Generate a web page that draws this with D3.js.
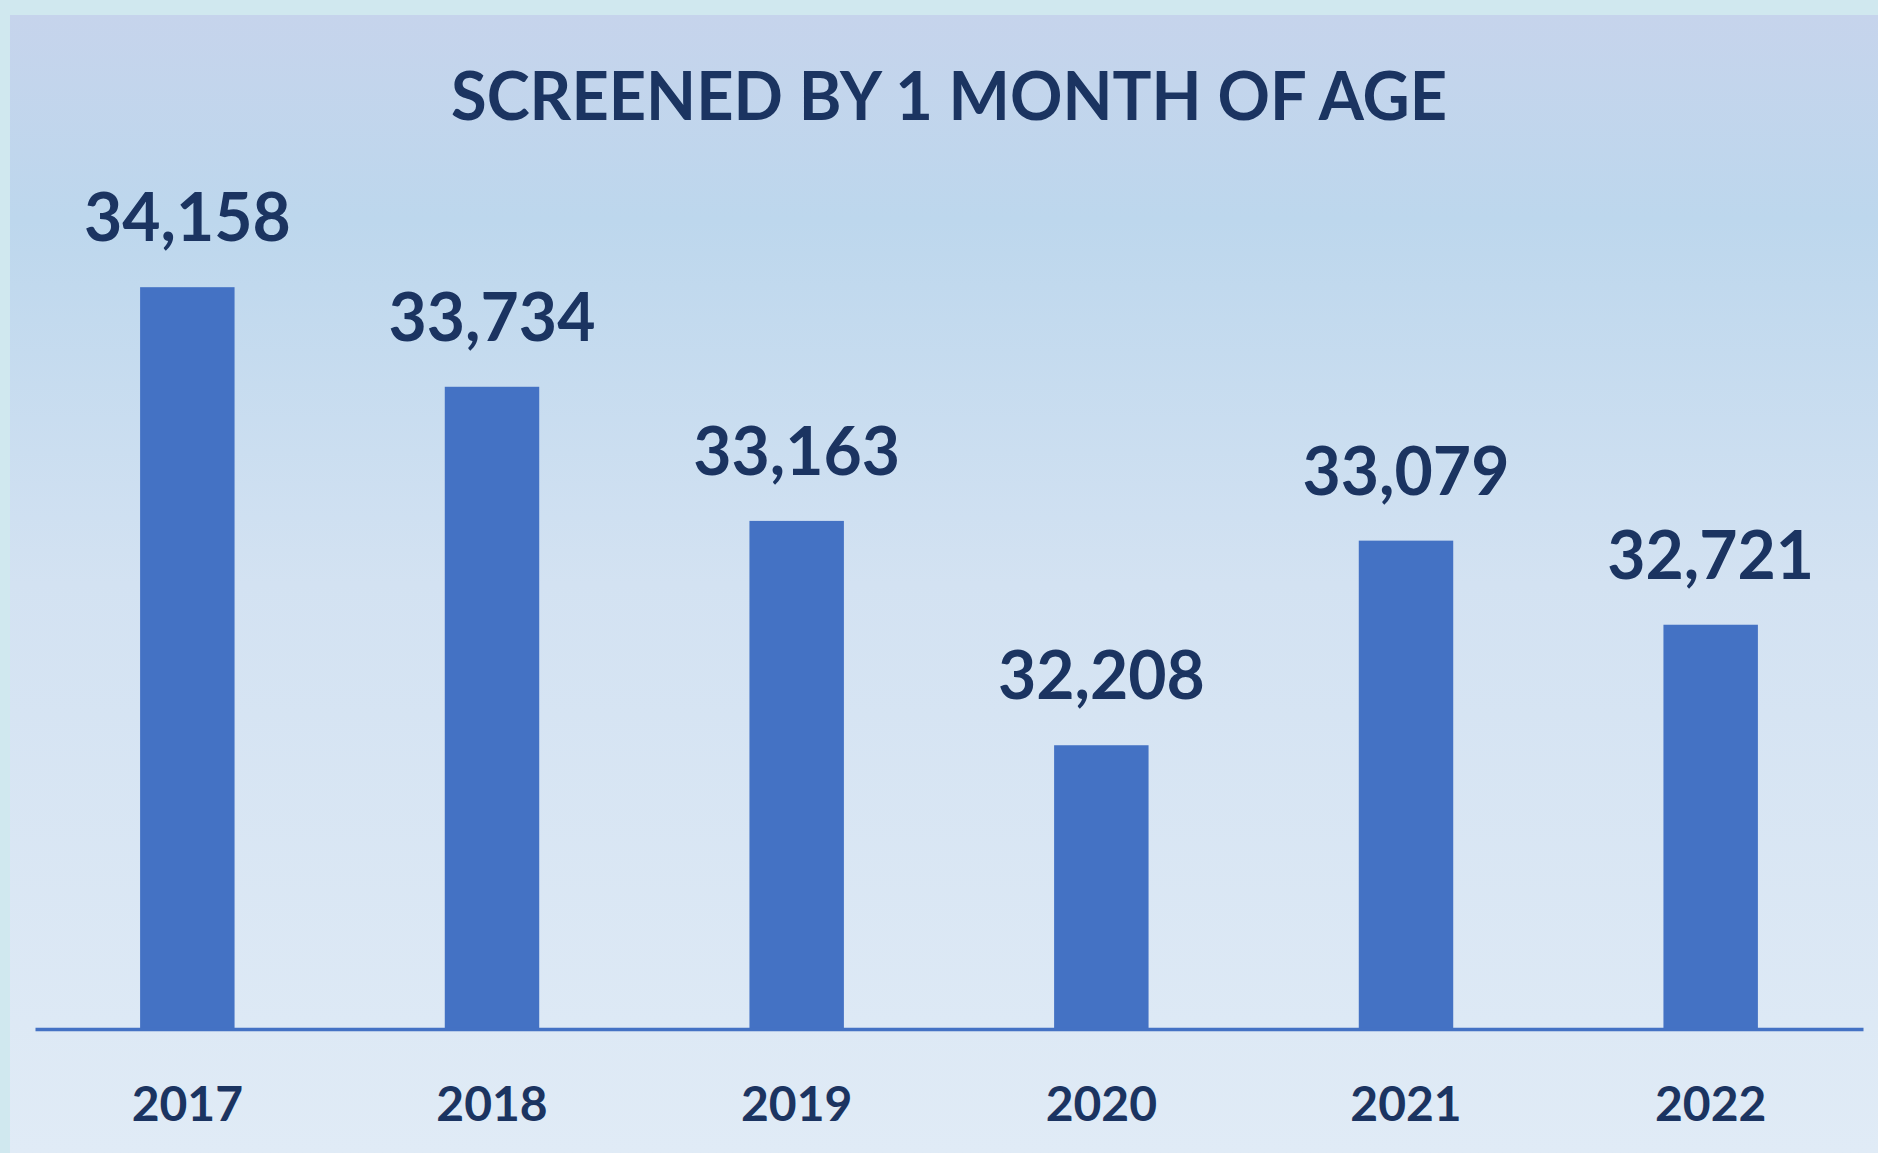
<!DOCTYPE html>
<html>
<head>
<meta charset="utf-8">
<script src="https://cdn.jsdelivr.net/npm/d3@7"></script>
<style>
  html, body { margin: 0; padding: 0; background: #d0e8ef; }
  svg { display: block; }
</style>
</head>
<body>
<div id="chart"></div>
<script>
/* global d3 */

const years = ['2017', '2018', '2019', '2020', '2021', '2022'];
const screened = [34158, 33734, 33163, 32208, 33079, 32721];
const titleText = 'SCREENED BY 1 MONTH OF AGE';

let width = 1878, height = 1153;
let navy = '#1b3461';
let barBlue = '#4472c4';
let font = 'Lato, "Open Sans", sans-serif';

let svg = d3.select('#chart')
  .append('svg')
  .attr('width', width)
  .attr('height', height);

// background panel
let defs = svg.append('defs');
let grad = defs.append('linearGradient')
  .attr('id', 'bg')
  .attr('x1', 0).attr('y1', 0).attr('x2', 0).attr('y2', 1);
[[0, '#c6d4ec'], [0.18, '#bdd7ed'], [0.5, '#d3e2f2'], [1, '#e0ebf6']].forEach(s => {
  grad.append('stop').attr('offset', s[0]).attr('stop-color', s[1]);
});

svg.append('rect')
  .attr('width', width).attr('height', height)
  .attr('fill', '#d0e8ef');
svg.append('rect')
  .attr('x', 10).attr('y', 15)
  .attr('width', width - 10).attr('height', height - 15)
  .attr('fill', 'url(#bg)');

// scales
let baseY = 1029;
let xScale = d3.scaleBand()
  .domain(years)
  .range([35, 1863])
  .paddingInner(0.69)
  .paddingOuter(0.345);
let yScale = d3.scaleLinear()
  .domain([31000, 35000])
  .range([baseY, baseY - 4000 * 0.2349]);

// title
let title = svg.append('text')
  .attr('x', 949)
  .attr('y', 120)
  .attr('text-anchor', 'middle')
  .style('font-family', font)
  .style('font-weight', 700)
  .style('font-size', '66px')
  .style('fill', navy)
  .text(titleText);
title.attr('textLength', 996).attr('lengthAdjust', 'spacingAndGlyphs');

// bars
svg.selectAll('rect.bar')
  .data(screened)
  .enter()
  .append('rect')
  .attr('class', 'bar')
  .attr('x', (d, i) => xScale(years[i]))
  .attr('y', d => yScale(d))
  .attr('width', xScale.bandwidth())
  .attr('height', d => baseY - yScale(d))
  .attr('fill', barBlue);

// axis line
let xAxis = d3.axisBottom(xScale).tickSize(0).tickPadding(0);
let axisG = svg.append('g')
  .attr('transform', 'translate(0,' + baseY + ')')
  .call(xAxis);
axisG.select('.domain')
  .attr('stroke', barBlue)
  .attr('stroke-width', 3.5);
axisG.selectAll('.tick text')
  .attr('y', 92)
  .attr('dy', null)
  .style('font-family', font)
  .style('font-weight', 700)
  .style('font-size', '48px')
  .style('fill', navy);

// value labels
svg.selectAll('text.val')
  .data(screened)
  .enter()
  .append('text')
  .attr('class', 'val')
  .attr('x', (d, i) => xScale(years[i]) + xScale.bandwidth() / 2)
  .attr('y', d => yScale(d) - 46)
  .attr('text-anchor', 'middle')
  .style('font-family', font)
  .style('font-weight', 700)
  .style('font-size', '66px')
  .style('fill', navy)
  .text(d => d3.format(',')(d));
</script>
</body>
</html>
